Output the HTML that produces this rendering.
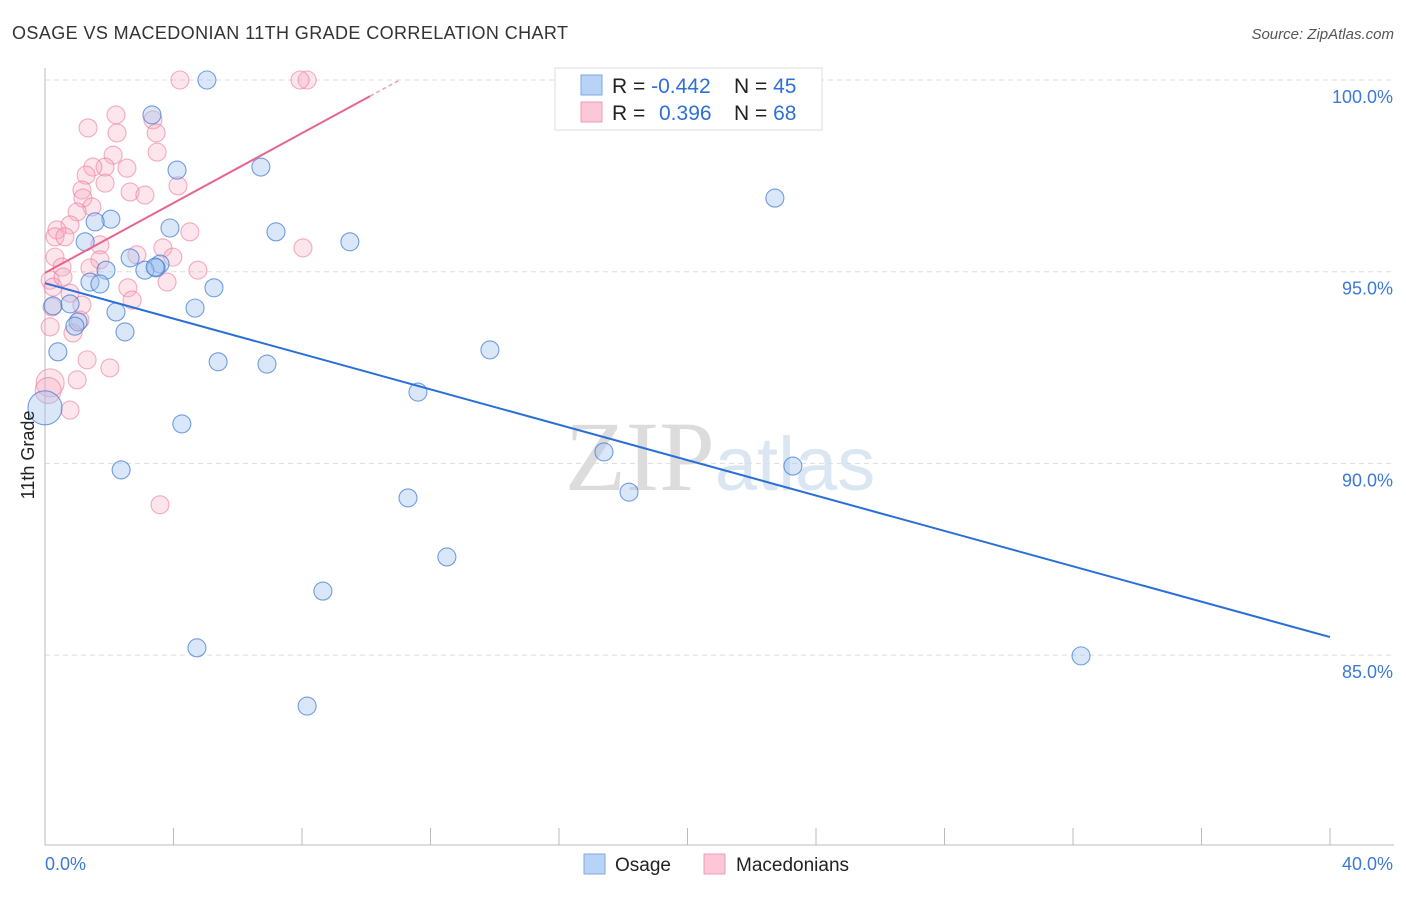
<!DOCTYPE html>
<html><head><meta charset="utf-8"><style>
body{margin:0;background:#fff;font-family:"Liberation Sans",sans-serif;}
svg text{font-family:"Liberation Sans",sans-serif;}
</style></head><body>
<svg id="chart" width="1406" height="892" xmlns="http://www.w3.org/2000/svg">
<text x="12" y="39" font-size="18" fill="#333" textLength="556">OSAGE VS MACEDONIAN 11TH GRADE CORRELATION CHART</text>
<text x="1394" y="39" font-size="15" fill="#555" font-style="italic" text-anchor="end">Source: ZipAtlas.com</text>
<text x="720" y="490" font-size="100" fill="#e4e4e4" text-anchor="middle" font-family="Liberation Serif"><tspan font-family="Liberation Serif" fill="#dcdcdc">ZIP</tspan><tspan font-family="Liberation Sans" font-size="76" fill="#dbe6f3">atlas</tspan></text>
<g id="grid"></g>
<g id="axes"></g>
<g id="marks"></g>
<text transform="translate(34,455) rotate(-90)" font-size="18" fill="#222" text-anchor="middle">11th Grade</text>
<g>
<rect x="555" y="68" width="267" height="62" fill="#fff" stroke="#ddd"/>
<rect x="581" y="75" width="21" height="20" fill="#b8d3f5" stroke="#7aa8e6"/>
<rect x="581" y="102" width="21" height="20" fill="#fcc7d6" stroke="#f09ab4"/>
<text x="612" y="93" font-size="21" fill="#222">R = <tspan fill="#2f6fd6">-0.442</tspan></text>
<text x="734" y="93" font-size="21" fill="#222">N = <tspan fill="#2f6fd6">45</tspan></text>
<text x="612" y="120" font-size="21" fill="#222">R = <tspan fill="#2f6fd6" x="659">0.396</tspan></text>
<text x="734" y="120" font-size="21" fill="#222">N = <tspan fill="#2f6fd6">68</tspan></text>
</g>
<g>
<rect x="584" y="854" width="21" height="20" fill="#b8d3f5" stroke="#7aa8e6"/>
<text x="615" y="871" font-size="19" fill="#222">Osage</text>
<rect x="704" y="854" width="21" height="20" fill="#fcc7d6" stroke="#f09ab4"/>
<text x="736" y="871" font-size="19" fill="#222">Macedonians</text>
</g>
</svg>
<script>
const xTicks=[0,40];
const yTicks=[85,90,95,100];
const osageX=[5.04,3.33,4.11,6.72,22.72,2.05,1.56,3.89,7.19,1.25,9.49,2.65,3.58,3.46,3.11,3.43,1.90,1.40,1.71,5.26,0.25,0.78,2.21,4.67,1.03,0.93,2.49,0.40,5.39,6.91,13.85,11.61,0,4.26,2.37,17.40,23.28,11.30,18.18,12.51,8.65,4.73,32.25,8.16];
const osageY=[100,99.09,97.65,97.73,96.92,96.37,96.30,96.14,96.04,95.78,95.78,95.36,95.20,95.10,95.04,95.12,95.04,94.73,94.68,94.58,94.11,94.16,93.95,94.05,93.69,93.58,93.43,92.91,92.65,92.59,92.96,91.86,91.45,91.03,89.83,90.30,89.93,89.10,89.25,87.56,86.67,85.19,84.98,83.67];
const osageR=[9,9,9,9,9,9,9,9,9,9,9,9,9,9,9,9,9,9,9,9,9,9,9,9,9,9,9,9,9,9,9,9,17,9,9,9,9,9,9,9,9,9,9,9];
const macX=[4.2,8.16,7.94,2.21,1.34,2.24,3.36,3.46,3.49,2.12,1.87,1.49,2.55,1.28,1.87,4.14,2.65,3.11,1.15,1.18,1.46,1.0,0.78,0.37,0.31,0.62,1.71,4.51,3.67,3.98,8.03,4.76,2.86,1.71,0.31,0.53,1.40,0.16,0.25,0.56,0.78,2.58,2.71,3.80,1.15,0.22,0.16,0.87,1.09,1.31,2.02,1.0,0.16,0.78,3.58,0.1];
const macY=[100,100,100,99.09,98.75,98.62,98.96,98.62,98.12,98.04,97.73,97.73,97.70,97.52,97.31,97.24,97.08,97.0,97.13,96.92,96.69,96.56,96.22,96.09,95.91,95.91,95.70,96.04,95.62,95.38,95.62,95.04,95.44,95.31,95.38,95.12,95.10,94.78,94.60,94.86,94.44,94.58,94.26,94.73,94.13,94.08,93.56,93.40,93.74,92.70,92.49,92.18,92.10,91.39,88.92,91.9];
const macR=[9,9,9,9,9,9,9,9,9,9,9,9,9,9,9,9,9,9,9,9,9,9,9,9,9,9,9,9,9,9,9,9,9,9,9,9,9,9,9,9,9,9,9,9,9,9,9,9,9,9,9,9,14,9,9,13];
const osageTrend=[94.7,85.47];
const macTrend=[94.97,99.58];
const NS='http://www.w3.org/2000/svg';
const X0=45,X1=1330,Y100=80,PX5=191.7;
function sx(v){return X0+(v-xTicks[0])/(xTicks[1]-xTicks[0])*(X1-X0);}
function sy(v){return Y100+(100-v)/5*PX5;}
function mk(tag,attrs,parent){const e=document.createElementNS(NS,tag);for(const k in attrs)e.setAttribute(k,attrs[k]);parent.appendChild(e);return e;}
const grid=document.getElementById('grid'),axes=document.getElementById('axes'),marks=document.getElementById('marks');
yTicks.forEach(t=>{
 const l=mk('line',{x1:45,x2:1394,y1:sy(t),y2:sy(t),stroke:'#ddd','stroke-dasharray':'5,4'},grid);
 
 
 const tx=mk('text',{x:1393,y:sy(t)+23,'font-size':18,fill:'#3d79d8','text-anchor':'end'},axes);
 tx.textContent=t.toFixed(1)+'%';
 
 
});
mk('line',{x1:45,x2:45,y1:68,y2:845,stroke:'#bbb'},axes);
mk('line',{x1:45,x2:1394,y1:845,y2:845,stroke:'#bbb'},axes);
for(let i=0;i<=10;i++){const x=sx(i*4);const t=mk('line',{x1:x,x2:x,y1:828,y2:845,stroke:'#bbb'},axes);
 
 }
xTicks.forEach((t,i)=>{const tx=mk('text',{x:i?1393:45,y:870,'font-size':18,fill:'#3d79d8','text-anchor':i?'end':'start'},axes);
 tx.textContent=t.toFixed(1)+'%';
 
 });
macX.forEach((v,i)=>{const c=mk('circle',{cx:sx(v),cy:sy(macY[i]),r:macR[i],fill:'rgba(249,168,192,0.3)',stroke:'rgba(236,120,155,0.6)','stroke-width':1.1},marks);
 
 });
osageX.forEach((v,i)=>{const c=mk('circle',{cx:sx(v),cy:sy(osageY[i]),r:osageR[i],fill:'rgba(160,196,240,0.4)',stroke:'rgba(60,120,210,0.7)','stroke-width':1.1},marks);
 
 });
const ol=mk('line',{x1:sx(0),y1:sy(osageTrend[0]),x2:sx(40),y2:sy(osageTrend[1]),stroke:'#2a6fd8','stroke-width':2},marks);


const ml=mk('line',{x1:sx(0),y1:sy(macTrend[0]),x2:sx(10.12),y2:sy(macTrend[1]),stroke:'#e8658e','stroke-width':2},marks);


const slope=(macTrend[1]-macTrend[0])/10.12;
const md=mk('line',{x1:sx(10.12),y1:sy(macTrend[1]),x2:sx(11),y2:sy(macTrend[0]+slope*11),stroke:'#f0a0b8','stroke-width':1.5,'stroke-dasharray':'4,3'},marks);


</script>
</body></html>
